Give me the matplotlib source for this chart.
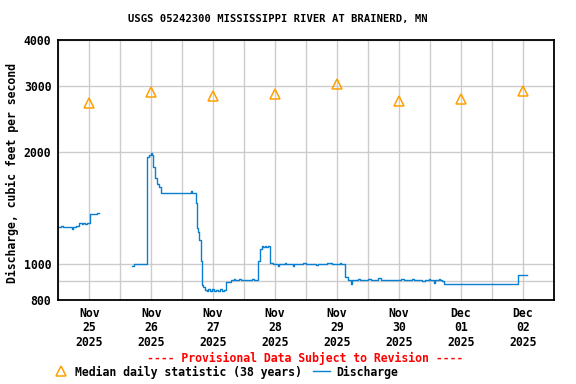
import numpy as np
import matplotlib
matplotlib.use("Agg")
from matplotlib import pyplot as plt
from matplotlib.lines import Line2D
from matplotlib.ticker import FixedLocator, NullFormatter

# hours since Nov 25 2025 00:00
q_hours = [0, 1.0, 1.8, 2.6, 4.0, 5.3, 5.7, 7.0, 8.0, 9.0, 9.6, 10.4, 11.0, 12.4, 14.9, 15.5, 15.6,
           28.7, 29.3, 34.3, 35.0, 35.8, 36.4, 36.8, 37.3, 38.1, 39.0, 39.8, 42, 43, 45, 47, 49, 51,
           51.5, 51.9, 52.4, 53.3, 53.6, 54.2, 54.7, 55.2, 55.6, 56.2, 56.8, 57.5, 58.0, 58.8, 59.5,
           60.2, 61.0, 61.8, 62.6, 63.4, 64.2, 64.9, 67.0, 68.0, 68.5, 70.0, 71.0, 72.0, 73.5, 75.0,
           76.0, 77.5, 78.3, 78.8, 79.5, 80.0, 80.6, 81.2, 82.2, 83.2, 85, 85.4, 88, 88.4, 91, 91.4,
           95, 96, 100, 100.5, 104, 106, 109, 109.5, 111.3, 112.3, 113.5, 113.9, 116, 117, 120, 121,
           124, 125, 128, 130, 133, 134, 137, 138, 141, 142, 143.5, 144, 145.5, 146, 147.5, 148,
           148.9, 149.3, 178.3, 181.8]
q_cfs = [1260, 1265, 1255, 1260, 1255, 1245, 1258, 1262, 1286, 1278, 1286, 1278, 1286, 1360, 1373, 1373, np.nan,
         988, 1000, 1940, 1960, 1985, 1965, 1825, 1700, 1645, 1610, 1555, 1548, 1555, 1550, 1555, 1552, 1555,
         1570, 1555, 1548, 1455, 1250, 1222, 1160, 1020, 880, 865, 852, 845, 856, 848, 856,
         846, 852, 846, 855, 846, 850, 895, 905, 910, 905, 910, 905, 908, 905, 910,
         905, 1020, 1100, 1119, 1110, 1119, 1110, 1119, 1004, 998, 990, 1000, 1008, 1000, 990, 1000,
         1005, 1000, 995, 1000, 1005, 1000, 1008, 1000, 925, 905, 885, 905, 910, 905, 912, 905,
         915, 905, 908, 905, 910, 905, 912, 905, 900, 905, 910, 905, 890, 905, 910, 905,
         900, 883, 933, 933]

# median daily statistic, plotted at noon of each day
med_hours = [12, 36, 60, 84, 108, 132, 156, 180]
med_cfs = [2700, 2900, 2830, 2870, 3040, 2740, 2780, 2920]

day_labels = ["Nov\n25\n2025", "Nov\n26\n2025", "Nov\n27\n2025", "Nov\n28\n2025",
              "Nov\n29\n2025", "Nov\n30\n2025", "Dec\n01\n2025", "Dec\n02\n2025"]

blue = "#0a7fd0"
orange = "#ffa000"
mono = "DejaVu Sans Mono"

fig = plt.figure(figsize=(5.76, 3.84), dpi=100)
ax = fig.add_axes([58.3 / 576, 1 - 300 / 384, 495.4 / 576, 260 / 384])

ax.plot(q_hours, q_cfs, drawstyle="steps-post", color=blue, lw=1.0)
ax.plot(med_hours, med_cfs, linestyle="none", marker="^", markersize=7,
        markerfacecolor="none", markeredgecolor=orange, markeredgewidth=1.1)

ax.set_yscale("log")
ax.set_ylim(800, 4000)
ax.set_xlim(0, 192)
ax.yaxis.set_major_locator(FixedLocator([800, 1000, 2000, 3000, 4000]))
ax.yaxis.set_minor_locator(FixedLocator([900]))
ax.yaxis.set_minor_formatter(NullFormatter())
ax.set_yticklabels(["800", "1000", "2000", "3000", "4000"])

ax.xaxis.set_major_locator(FixedLocator(list(range(0, 193, 24))))
ax.xaxis.set_major_formatter(NullFormatter())
ax.xaxis.set_minor_locator(FixedLocator(med_hours))
ax.set_xticklabels(day_labels, minor=True)

ax.grid(True, which="both", color="#cccccc", lw=1.0)
ax.set_axisbelow(True)
ax.tick_params(which="both", length=0)
ax.tick_params(axis="y", which="major", pad=5)
ax.tick_params(axis="x", which="minor", pad=5)
for lab in ax.get_yticklabels() + ax.get_xticklabels(minor=True):
    lab.set_fontfamily(mono)
    lab.set_fontweight("bold")
    lab.set_fontsize(8.3)
for lab in ax.get_xticklabels(minor=True):
    lab.set_linespacing(1.15)
for s in ax.spines.values():
    s.set_linewidth(1.3)

fig.text(278 / 576, 1 - 19 / 384, "USGS 05242300 MISSISSIPPI RIVER AT BRAINERD, MN",
         ha="center", va="center", family=mono, weight="bold", fontsize=7.6)
fig.text(12 / 576, 1 - 173 / 384, "Discharge, cubic feet per second", rotation=90,
         ha="center", va="center", family=mono, weight="bold", fontsize=8.3)
fig.text(305.5 / 576, 1 - 358.5 / 384, "---- Provisional Data Subject to Revision ----",
         ha="center", va="center", family=mono, weight="bold", fontsize=8.3, color="red")

# legend row
fig.add_artist(Line2D([60.7 / 576], [1 - 371 / 384], marker="^", markersize=7, linestyle="none",
                      markerfacecolor="none", markeredgecolor=orange, markeredgewidth=1.1))
fig.text(75 / 576, 1 - 372 / 384, "Median daily statistic (38 years)",
         ha="left", va="center", family=mono, weight="bold", fontsize=8.3)
fig.add_artist(Line2D([313.3 / 576, 330 / 576], [1 - 371 / 384, 1 - 371 / 384], color=blue, lw=1.0))
fig.text(336.7 / 576, 1 - 372 / 384, "Discharge",
         ha="left", va="center", family=mono, weight="bold", fontsize=8.3)

fig.savefig("out.png", dpi=100)
